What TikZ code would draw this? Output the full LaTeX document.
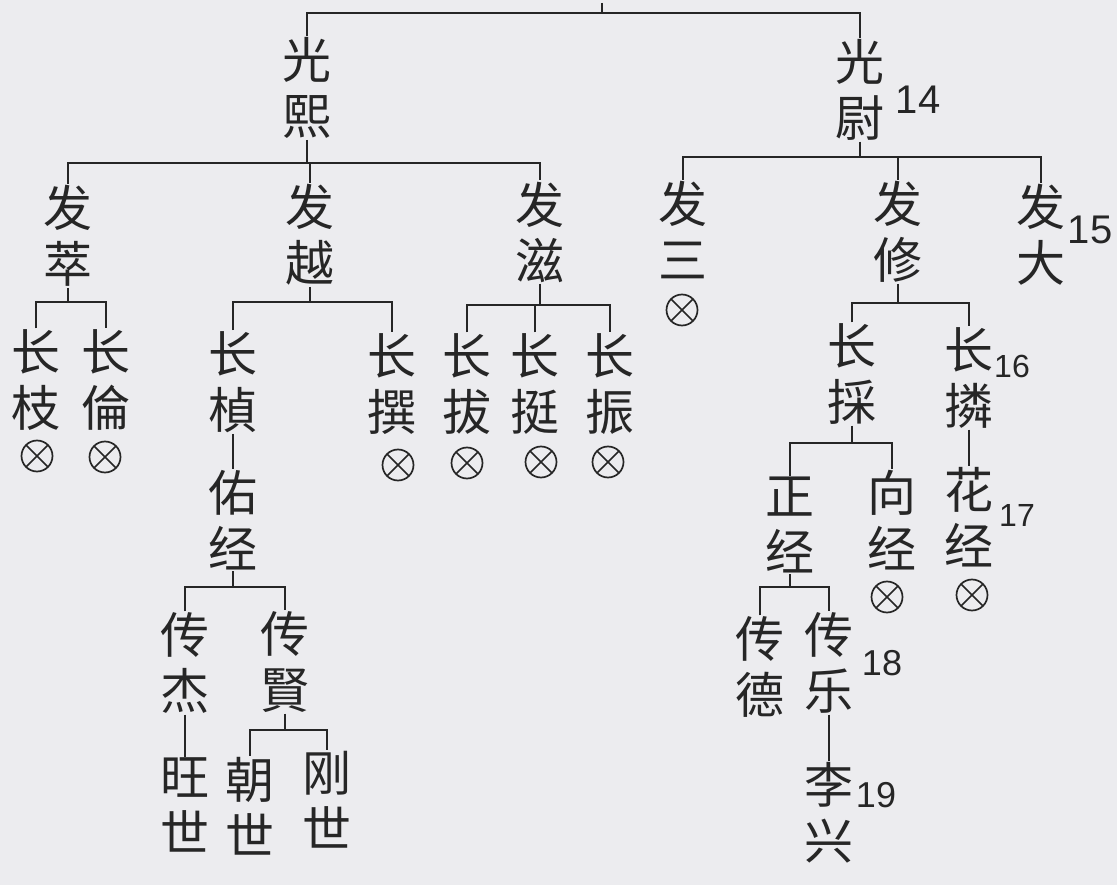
\documentclass[tikz,border=0pt]{standalone}
\usepackage{fontspec}
\newfontfamily\cjk{Noto Sans CJK SC}
\newfontfamily\numfont{Liberation Sans}
\definecolor{paper}{RGB}{236,236,239}
\definecolor{ink}{RGB}{38,38,38}
\tikzset{
  nm/.style={font=\cjk\fontsize{49}{56}\selectfont, align=center, inner sep=1pt, text=ink},
  gen/.style={font=\numfont\fontsize{40}{40}\selectfont, inner sep=0pt, text=ink},
  link/.style={draw=ink, line width=2pt},
  xo/.style={circle, draw=ink, line width=1.7pt, minimum size=31pt, inner sep=0pt,
    path picture={\draw[ink, line width=1.7pt]
      (path picture bounding box.north west) -- (path picture bounding box.south east)
      (path picture bounding box.north east) -- (path picture bounding box.south west);}}
}
\begin{document}
\begin{tikzpicture}[x=1pt,y=-1pt]
\fill[paper] (0,0) rectangle (1117,885);
\useasboundingbox (0,0) rectangle (1117,885);

% generation 13/14
\node[nm] (gx) at (307,88) {光\\熙};
\node[nm] (gw) at (860,90) {光\\尉};
\node[gen] (n14) at (918,100) {14};

% generation 15
\node[nm] (fc) at (68,236) {发\\萃};
\node[nm] (fy) at (310,235) {发\\越};
\node[nm] (fz) at (540,232) {发\\滋};
\node[nm] (fs) at (683,230) {发\\三};
\node[nm] (fx) at (898,232) {发\\修};
\node[nm] (fd) at (1041,235) {发\\大};
\node[gen] (n15) at (1090,230) {15};

% generation 16
\node[nm] (c1) at (36,380) {长\\枝};
\node[nm] (c2) at (106,380) {长\\倫};
\node[nm] (c3) at (233,382) {长\\楨};
\node[nm] (c4) at (392,384) {长\\撰};
\node[nm] (c5) at (467,384) {长\\拔};
\node[nm] (c6) at (535,384) {长\\挺};
\node[nm] (c7) at (610,384) {长\\振};
\node[nm] (c8) at (852,374) {长\\採};
\node[nm] (c9) at (969,378) {长\\撛};
\node[gen, font=\numfont\fontsize{32}{32}\selectfont] (n16) at (1012,366) {16};

\node[xo] (x1) at (37,456) {};
\node[xo] (x2) at (105,457) {};
\node[xo] (x4) at (398,465) {};
\node[xo] (x5) at (467,463) {};
\node[xo] (x6) at (541,462) {};
\node[xo] (x7) at (608,462) {};
\node[xo] (x3) at (682,310) {};

% generation 17
\node[nm] (d1) at (233,520) {佑\\经};
\node[nm] (d2) at (790,525) {正\\经};
\node[nm] (d3) at (892,520) {向\\经};
\node[nm] (d4) at (969,517) {花\\经};
\node[gen, font=\numfont\fontsize{32}{32}\selectfont] (n17) at (1017,515) {17};
\node[xo] (x8) at (887,597) {};
\node[xo] (x9) at (972,595) {};

% generation 18
\node[nm] (e1) at (185,663) {传\\杰};
\node[nm] (e2) at (285,662) {传\\賢};
\node[nm] (e3) at (760,667) {传\\德};
\node[nm] (e4) at (829,663) {传\\乐};
\node[gen, font=\numfont\fontsize{36}{36}\selectfont] (n18) at (882,663) {18};

% generation 19
\node[nm] (f1) at (185,805) {旺\\世};
\node[nm] (f2) at (250,806) {朝\\世};
\node[nm] (f3) at (327,800) {刚\\世};
\node[nm] (f4) at (829,813) {李\\兴};
\node[gen, font=\numfont\fontsize{36}{36}\selectfont] (n19) at (876,795) {19};

% ---- connectors ----
\coordinate (b0) at (0,13);
\coordinate (up) at (602,3);
\draw[link] (gx.north) -- (gx.north |- b0) -- (gw.north |- b0) -- (gw.north);
\draw[link] (up) -- (up |- b0);

\coordinate (b1) at (0,163);
\draw[link] (gx.south) -- (gx.south |- b1);
\draw[link] (fc.north) -- (fc.north |- b1) -- (fz.north |- b1) -- (fz.north);
\draw[link] (fy.north) -- (fy.north |- b1);

\coordinate (b2) at (0,157);
\draw[link] (gw.south) -- (gw.south |- b2);
\draw[link] (fs.north) -- (fs.north |- b2) -- (fd.north |- b2) -- (fd.north);
\draw[link] (fx.north) -- (fx.north |- b2);

\coordinate (b3) at (0,302);
\draw[link] (fc.south) -- (fc.south |- b3);
\draw[link] (c1.north) -- (c1.north |- b3) -- (c2.north |- b3) -- (c2.north);

\coordinate (b4) at (0,302);
\draw[link] (fy.south) -- (fy.south |- b4);
\draw[link] (c3.north) -- (c3.north |- b4) -- (c4.north |- b4) -- (c4.north);

\coordinate (b5) at (0,305);
\draw[link] (fz.south) -- (fz.south |- b5);
\draw[link] (c5.north) -- (c5.north |- b5) -- (c7.north |- b5) -- (c7.north);
\draw[link] (c6.north) -- (c6.north |- b5);

\coordinate (b6) at (0,303);
\draw[link] (fx.south) -- (fx.south |- b6);
\draw[link] (c8.north) -- (c8.north |- b6) -- (c9.north |- b6) -- (c9.north);

\coordinate (b7) at (0,443);
\draw[link] (c8.south) -- (c8.south |- b7);
\draw[link] (d2.north) -- (d2.north |- b7) -- (d3.north |- b7) -- (d3.north);

\draw[link] (c9.south) -- (d4.north);
\draw[link] (c3.south) -- (d1.north);

\coordinate (b8) at (0,587);
\draw[link] (d1.south) -- (d1.south |- b8);
\draw[link] (e1.north) -- (e1.north |- b8) -- (e2.north |- b8) -- (e2.north);

\coordinate (b9) at (0,587);
\draw[link] (d2.south) -- (d2.south |- b9);
\draw[link] (e3.north) -- (e3.north |- b9) -- (e4.north |- b9) -- (e4.north);

\coordinate (b10) at (0,730);
\draw[link] (e2.south) -- (e2.south |- b10);
\draw[link] (f2.north) -- (f2.north |- b10) -- (f3.north |- b10) -- (f3.north);

\draw[link] (e1.south) -- (f1.north);
\draw[link] (e4.south) -- (f4.north);
\end{tikzpicture}
\end{document}
